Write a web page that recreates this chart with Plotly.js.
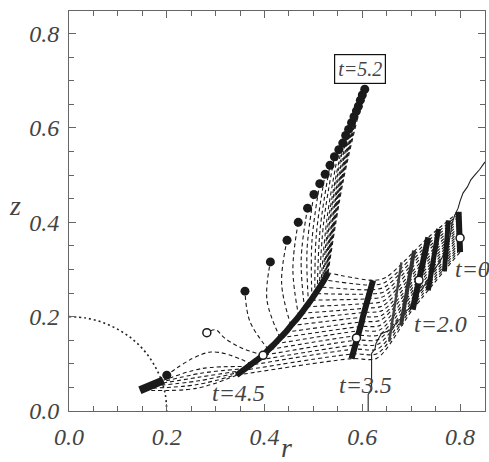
<!DOCTYPE html>
<html><head><meta charset="utf-8">
<script src="https://cdn.plot.ly/plotly-3.0.1.min.js"></script>
<style>html,body{margin:0;padding:0;background:#fff;}#chart{width:489px;height:462px;}</style>
</head><body><div id="chart"></div>
<script>
// ---- particle snapshots (r, z), bottom particle first ----
const t0R  = [0.800,0.800,0.800,0.800,0.800,0.800,0.799,0.799,0.799,0.799,0.799,0.799,0.798,0.798,0.798,0.797,0.797,0.797];
const t0Z  = [0.337,0.342,0.347,0.352,0.357,0.362,0.367,0.372,0.377,0.382,0.387,0.392,0.397,0.402,0.407,0.412,0.417,0.422];
const t20R = [0.703,0.705,0.707,0.709,0.711,0.712,0.714,0.716,0.718,0.720,0.722,0.724,0.726,0.727,0.729,0.731,0.733,0.735];
const t20Z = [0.215,0.224,0.233,0.242,0.251,0.260,0.269,0.278,0.287,0.296,0.305,0.314,0.323,0.332,0.341,0.350,0.359,0.368];
const t28R = [0.630,0.631,0.632,0.633,0.634,0.635,0.636,0.637,0.638,0.640,0.641,0.642,0.643,0.644,0.645,0.646,0.647,0.648];
const t28Z = [0.112,0.122,0.132,0.142,0.152,0.162,0.172,0.182,0.193,0.203,0.213,0.223,0.233,0.243,0.253,0.263,0.273,0.283];
const t35R = [0.578,0.581,0.583,0.586,0.588,0.591,0.594,0.596,0.599,0.601,0.604,0.606,0.609,0.612,0.614,0.617,0.619,0.622];
const t35Z = [0.111,0.121,0.131,0.140,0.150,0.160,0.170,0.179,0.189,0.199,0.209,0.218,0.228,0.238,0.248,0.257,0.267,0.277];
const t45R = [0.343,0.356,0.370,0.383,0.397,0.408,0.420,0.432,0.443,0.454,0.465,0.475,0.485,0.495,0.504,0.513,0.522,0.530];
const t45Z = [0.076,0.086,0.097,0.107,0.118,0.130,0.142,0.155,0.167,0.181,0.194,0.207,0.221,0.235,0.249,0.263,0.278,0.293];

// intermediate snapshot bars between t=0 and t=3.5
const barAR = [0.768,0.776], barAZ = [0.296,0.404];
const barBR = [0.735,0.756], barBZ = [0.256,0.386];
const barCR = [0.679,0.706], barCZ = [0.181,0.340];
const barDR = [0.655,0.680], barDZ = [0.147,0.315];

// t=5.2 markers
const dotR = [0.200,0.360,0.412,0.446,0.469,0.488,0.501,0.513,0.524,0.534,0.543,0.552,0.560,0.566,0.572,0.578,0.583,0.588,0.592,0.596,0.600,0.605];
const dotZ = [0.076,0.254,0.316,0.362,0.400,0.430,0.459,0.482,0.502,0.521,0.539,0.554,0.568,0.584,0.597,0.611,0.624,0.636,0.646,0.659,0.670,0.682];
const blobR = [0.145,0.160,0.176,0.193];
const blobZ = [0.044,0.050,0.057,0.065];

// paths t=4.5 -> t=5.2 for the dots 1..21
const cStartR = [0.408,0.432,0.454,0.470,0.482,0.490,0.497,0.503,0.508,0.512,0.515,0.518,0.520,0.522,0.524,0.525,0.526,0.527,0.528,0.529,0.530];
const cStartZ = [0.130,0.155,0.181,0.200,0.216,0.228,0.238,0.246,0.254,0.260,0.266,0.271,0.275,0.279,0.282,0.285,0.287,0.289,0.290,0.292,0.293];
const cMidR = [0.370,0.405,0.435,0.458,0.475,0.487,0.497,0.506,0.514,0.521,0.528,0.533,0.537,0.541,0.545,0.548,0.551,0.553,0.556,0.558,0.561];
const cMidZ = [0.190,0.235,0.270,0.300,0.322,0.342,0.360,0.374,0.388,0.400,0.410,0.420,0.430,0.438,0.447,0.455,0.462,0.468,0.475,0.481,0.488];

// paths t=4.5 -> t=5.2 into the bottom cluster
const dStartR = [0.343,0.348,0.352,0.356,0.362,0.368,0.374];
const dStartZ = [0.076,0.079,0.083,0.086,0.090,0.094,0.099];
const dMidR = [0.260,0.262,0.265,0.268,0.270,0.272,0.290];
const dMidZ = [0.048,0.056,0.064,0.072,0.080,0.090,0.125];
const dEndR = [0.145,0.157,0.168,0.178,0.187,0.193,0.200];
const dEndZ = [0.044,0.048,0.053,0.057,0.061,0.065,0.076];

// tracer particle (open circles) and its last path
const tracerR = [0.800,0.716,0.588,0.397,0.282];
const tracerZ = [0.367,0.277,0.155,0.118,0.166];
const tracerPathR = [0.397,0.350,0.318,0.300,0.282];
const tracerPathZ = [0.118,0.135,0.155,0.172,0.166];

// thin interface line
const waveR = [0.612,0.612,0.619,0.619,0.626,0.628,0.635,0.639,0.656,0.665,0.672,0.680,0.688,0.697,0.705,0.714,0.722,0.730,0.738,0.748,0.755,0.762,0.770,0.776,0.780,0.783,0.789,0.796,0.800,0.806,0.815,0.822,0.830,0.840,0.851];
const waveZ = [0.000,0.035,0.044,0.122,0.132,0.143,0.157,0.164,0.171,0.180,0.192,0.195,0.210,0.218,0.235,0.250,0.258,0.272,0.285,0.300,0.312,0.323,0.340,0.352,0.372,0.395,0.415,0.430,0.445,0.462,0.475,0.490,0.500,0.512,0.528];

// dotted quarter circle of radius 0.2
const arcR = [0.000,0.035,0.068,0.100,0.129,0.153,0.173,0.188,0.197,0.200];
const arcZ = [0.200,0.197,0.188,0.173,0.153,0.129,0.100,0.068,0.035,0.000];

// axis ticks
const tickVals = [0.0,0.2,0.4,0.6,0.8];
const tickText = ['0.0','0.2','0.4','0.6','0.8'];

const INK = '#1a1a1a';
const DASH = '4px,3px';
const traces = [];
function line(r, z, opts) {
  traces.push(Object.assign({type:'scatter', mode:'lines', x:r, y:z, hoverinfo:'skip',
    line:Object.assign({color:INK, width:1.1}, opts||{})}));
}

for (let i = 0; i < t0R.length; i++) {
  line([t0R[i], t20R[i], t28R[i], t35R[i], t45R[i]],
       [t0Z[i], t20Z[i], t28Z[i], t35Z[i], t45Z[i]],
       {dash:DASH, shape:'spline', smoothing:0.8});
}
for (let k = 0; k < cStartR.length; k++) {
  line([cStartR[k], cMidR[k], dotR[k+1]], [cStartZ[k], cMidZ[k], dotZ[k+1]],
       {dash:DASH, shape:'spline', smoothing:1});
}
for (let k = 0; k < dStartR.length; k++) {
  line([dStartR[k], dMidR[k], dEndR[k]], [dStartZ[k], dMidZ[k], dEndZ[k]],
       {dash:DASH, shape:'spline', smoothing:1});
}
line(tracerPathR, tracerPathZ, {dash:DASH, shape:'spline', smoothing:1});

line(waveR, waveZ, {width:1.1, color:'#222'});
line(arcR, arcZ, {dash:'2px,3px', width:1.6, shape:'spline', color:'#222'});

line(t0R, t0Z, {width:6});
line(barAR, barAZ, {width:5});
line(barBR, barBZ, {width:5});
line(t20R, t20Z, {width:6});
line(barCR, barCZ, {width:4, color:'#333'});
line(barDR, barDZ, {width:2.5, color:'#444'});
line(t35R, t35Z, {width:6});
line(t45R, t45Z, {width:6, shape:'spline'});
line(blobR, blobZ, {width:8});

traces.push({type:'scatter', mode:'markers', x:dotR, y:dotZ, hoverinfo:'skip',
  marker:{size:9, color:INK}});
traces.push({type:'scatter', mode:'markers', x:tracerR, y:tracerZ, hoverinfo:'skip',
  marker:{size:8, color:'#fff', line:{color:INK, width:1.5}}});

function axis(range) {
  return {
    range:range, showgrid:false, zeroline:false, showline:true, linecolor:'#666', linewidth:1,
    mirror:'ticks', ticks:'inside', ticklen:7, tickcolor:'#666', tickwidth:1,
    tickvals:tickVals, ticktext:tickText,
    tickfont:{family:'Liberation Serif', size:24, style:'italic'}, ticklabelstandoff:4,
    minor:{dtick:0.05, ticks:'inside', ticklen:5, tickcolor:'#666', showgrid:false}
  };
}

function lab(x, y, text, extra) {
  return Object.assign({x:x, y:y, text:text, showarrow:false,
    font:{family:'Liberation Serif', size:24, style:'italic'}}, extra || {});
}

const layout = {
  width:489, height:462, margin:{l:69, r:4, t:11, b:51},
  showlegend:false,
  xaxis:axis([0, 0.851]),
  yaxis:axis([0, 0.848]),
  annotations:[
    lab(0.5945, 0.726, 't=5.2', {font:{family:'Liberation Serif', size:20, style:'italic'},
        bordercolor:'#111', borderwidth:1.2, borderpad:2, width:46, height:24, bgcolor:'#fff'}),
    lab(0.346, 0.0375, 't=4.5'),
    lab(0.606, 0.0545, 't=3.5'),
    lab(0.760, 0.185, 't=2.0'),
    lab(0.786, 0.302, 't=0', {xanchor:'left'}),
    lab(0, 0.436, 'z', {xref:'paper', xshift:-54, xanchor:'center', yanchor:'middle',
        font:{family:'Liberation Serif', size:28, style:'italic'}}),
    lab(0.445, 0, 'r', {yref:'paper', yshift:-36, xanchor:'center', yanchor:'middle',
        font:{family:'Liberation Serif', size:28, style:'italic'}})
  ]
};

Plotly.newPlot('chart', traces, layout, {staticPlot:true});
</script>
</body></html>
